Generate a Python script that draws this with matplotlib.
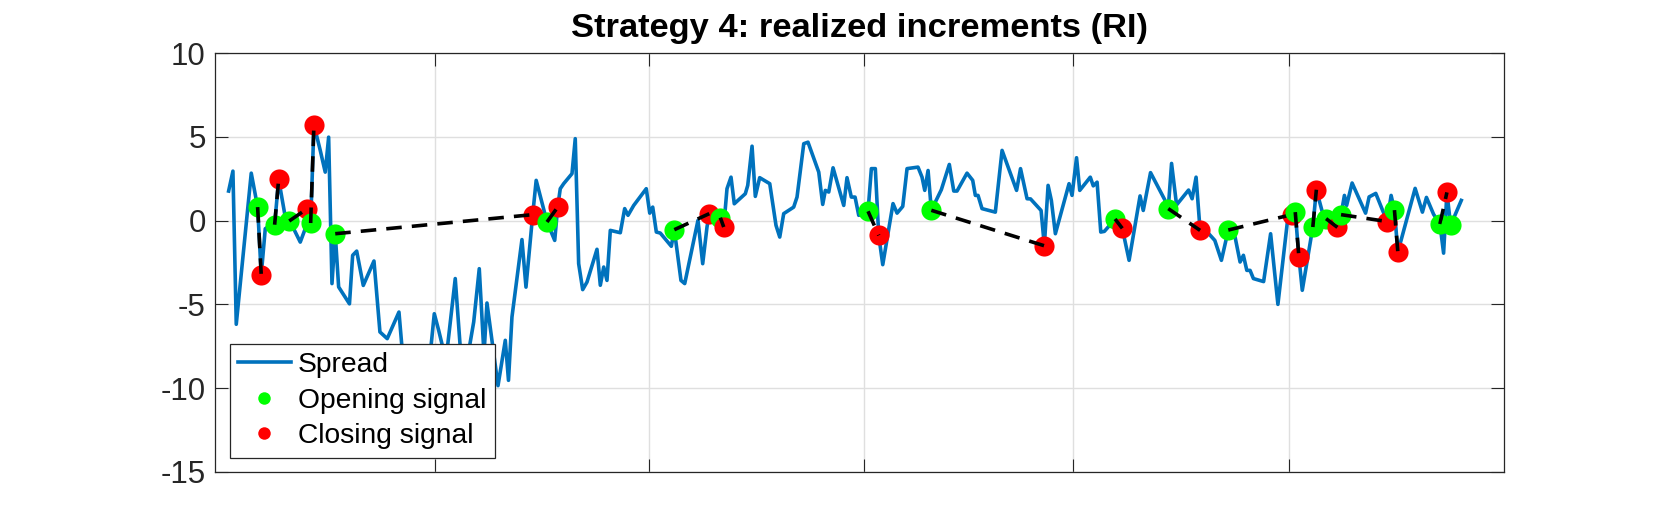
import numpy as np
import matplotlib
matplotlib.use('Agg')
import matplotlib.pyplot as plt

plt.rcParams['font.family'] = ['Liberation Sans', 'DejaVu Sans']
plt.rcParams['axes.unicode_minus'] = False

# time (days from start of the window) and spread value
t = np.array([
    1.90, 2.52, 3.00, 5.16, 6.08, 6.60, 7.18, 7.67, 8.53, 9.11,
    10.06, 10.63, 11.27, 12.22, 12.94, 13.23, 13.72, 14.19, 15.10, 15.82,
    16.31, 16.79, 17.26, 17.75, 19.31, 19.77, 20.35, 21.30, 22.84, 23.70,
    24.75, 26.44, 26.83, 27.45, 28.30, 29.30, 30.60, 31.53, 32.16, 33.21,
    34.55, 35.66, 37.21, 38.01, 38.69, 39.12, 40.71, 41.76, 42.22, 42.72,
    44.16, 44.74, 45.71, 46.21, 47.77, 48.88, 49.31, 49.68, 50.17, 51.37,
    51.84, 52.33, 52.91, 53.53, 54.97, 55.45, 55.94, 56.41, 56.89, 58.33,
    58.96, 59.44, 60.26, 62.07, 62.57, 63.00, 63.52, 64.09, 65.68, 66.11,
    67.07, 67.61, 69.52, 70.20, 70.82, 71.15, 72.74, 73.23, 73.70, 74.28,
    74.75, 76.34, 76.69, 77.31, 77.78, 78.41, 79.86, 80.76, 81.30, 81.87,
    83.31, 83.79, 84.76, 85.37, 86.92, 87.49, 87.87, 88.36, 88.98, 90.52,
    90.99, 91.61, 92.15, 92.68, 94.02, 94.50, 95.07, 95.56, 96.14, 97.62,
    98.20, 99.02, 99.64, 101.22, 101.80, 102.19, 102.67, 103.14, 104.58, 105.73,
    106.37, 106.84, 108.28, 109.10, 109.48, 109.87, 110.44, 112.36, 113.33, 115.42,
    115.99, 116.93, 117.43, 118.95, 119.42, 119.96, 120.43, 121.01, 122.98, 123.41,
    124.06, 124.52, 126.04, 126.47, 127.02, 127.55, 128.07, 129.61, 130.65, 131.63,
    133.21, 133.67, 134.72, 136.74, 137.27, 137.75, 138.47, 140.20, 140.71, 141.28,
    141.86, 143.11, 143.98, 144.93, 145.92, 146.90, 147.62, 148.10, 148.59, 149.06,
    149.54, 151.01, 152.02, 153.07, 154.56, 155.04, 155.57, 156.09, 156.58, 158.10,
    158.61, 159.41, 160.01, 161.64, 162.17, 162.65, 162.97, 163.76, 165.70, 166.21,
    167.17, 168.30, 168.80, 169.38, 169.86, 170.35, 172.84, 173.89, 174.47, 175.50,
    176.41, 176.94, 177.42, 177.95, 179.49])

spread = np.array([
    1.77, 2.96, -6.19, 2.84, 0.81, -3.23, -0.48, -0.34, -0.24, 2.47,
    0.22, -0.02, -0.48, -1.28, -0.48, 0.72, -0.14, 5.73, 4.20, 2.90,
    4.99, -3.76, -0.78, -3.96, -4.97, -2.07, -1.82, -3.87, -2.41, -6.65,
    -7.05, -5.46, -7.35, -8.90, -8.00, -9.80, -9.40, -5.56, -6.55, -8.35,
    -3.46, -9.80, -6.05, -2.87, -8.00, -4.92, -9.86, -7.15, -9.54, -5.76,
    -1.13, -3.97, 0.36, 2.41, -0.08, -1.18, 0.81, 1.91, 2.21, 2.81,
    4.90, -2.57, -4.12, -3.67, -1.71, -3.86, -2.77, -3.57, -0.58, -0.72,
    0.72, 0.32, 0.91, 1.91, 0.45, 0.81, -0.68, -0.74, -1.53, -0.54,
    -3.57, -3.76, 0.02, -2.57, -0.38, 0.42, 0.18, -0.38, 1.91, 2.60,
    1.01, 1.61, 2.11, 4.45, 1.45, 2.57, 2.21, -0.28, -0.98, 0.42,
    0.81, 1.41, 4.60, 4.69, 2.90, 0.97, 1.81, 1.71, 3.16, 0.91,
    2.57, 1.41, 1.41, 0.32, 0.56, 3.11, 3.11, -0.88, -2.63, 1.02,
    0.45, 0.85, 3.11, 3.20, 2.60, 1.81, 3.00, 0.62, 1.85, 3.36,
    1.77, 1.77, 2.84, 2.41, 1.51, 1.51, 0.72, 0.51, 4.20, 1.81,
    3.11, 1.31, 1.30, 0.61, -1.50, 2.11, 1.21, -0.78, 2.21, 1.51,
    3.76, 1.81, 2.60, 2.08, 2.30, -0.68, -0.64, 0.10, -0.46, -2.37,
    1.48, 0.61, 2.87, 1.27, 0.72, 3.42, 0.94, 1.83, 1.31, 2.60,
    -0.58, -0.78, -1.18, -2.37, -0.56, -0.98, -2.47, -2.07, -2.97, -2.97,
    -3.46, -3.64, -0.78, -5.00, 0.38, 0.36, 0.51, -2.15, -4.16, -0.38,
    1.85, 0.61, 0.12, -0.40, 0.36, 1.51, 0.91, 2.25, 0.45, 1.42,
    1.63, 0.47, -0.05, 1.51, 0.63, -1.88, 1.93, 0.51, 1.39, 0.38,
    -0.20, -1.94, 1.69, -0.28, 1.21])

# positions (into t / spread) of the trading signals
open_idx = [4, 8, 11, 16, 22, 54, 79, 86, 114, 127, 157, 164, 174,
            186, 189, 192, 194, 204, 210, 213]
close_idx = [5, 9, 15, 17, 52, 56, 85, 87, 117, 144, 158, 170, 185,
             187, 190, 193, 202, 205, 212]

month_ticks = [31.6, 62.5, 93.5, 123.6, 154.6]
t_end = 185.6

fig = plt.figure(figsize=(16.61, 5.30), dpi=100)
ax = fig.add_axes([0.1297, 0.110, 0.7756, 0.7894])

h_spread, = ax.plot(t, spread, color='#0072BD', lw=2.6, label='Spread')

h_open = h_close = None
for k, o in enumerate(open_idx):
    ho, = ax.plot(t[o], spread[o], 'o', color='#00FF00', ms=14.5, mew=0)
    if h_open is None:
        h_open = ho
    if k < len(close_idx):
        c = close_idx[k]
        hc, = ax.plot(t[c], spread[c], 'o', color='#FF0000', ms=14.5, mew=0)
        if h_close is None:
            h_close = hc
        ax.plot(t[[o, c]], spread[[o, c]], '--', color='k', lw=2.6, dashes=(4.3, 2.8))

ax.set_xlim(0, t_end)
ax.set_ylim(-15, 10)
ax.set_xticks(month_ticks)
ax.set_xticklabels([])
ax.set_yticks(np.arange(-15, 11, 5))
ax.tick_params(direction='in', length=9.2, width=0.8, colors='#262626',
               labelsize=22.5, pad=7, top=True, right=True)
for s in ax.spines.values():
    s.set_color('#262626')
    s.set_linewidth(0.9)
ax.grid(True, color='#dfdfdf', lw=1.0)
ax.set_axisbelow(True)

ax.set_title('Strategy 4: realized increments (RI)', fontsize=24.8,
             fontweight='bold', pad=12)

leg = ax.legend([h_spread, h_open, h_close],
                ['Spread', 'Opening signal', 'Closing signal'],
                loc='lower left', fontsize=20.3, fancybox=False, framealpha=1,
                edgecolor='#262626', borderpad=0.3, handlelength=1.87,
                handletextpad=0.25, labelspacing=0.34, borderaxespad=0.5,
                markerscale=0.62)
leg.get_frame().set_linewidth(0.9)

fig.savefig('out.png', dpi=100)
